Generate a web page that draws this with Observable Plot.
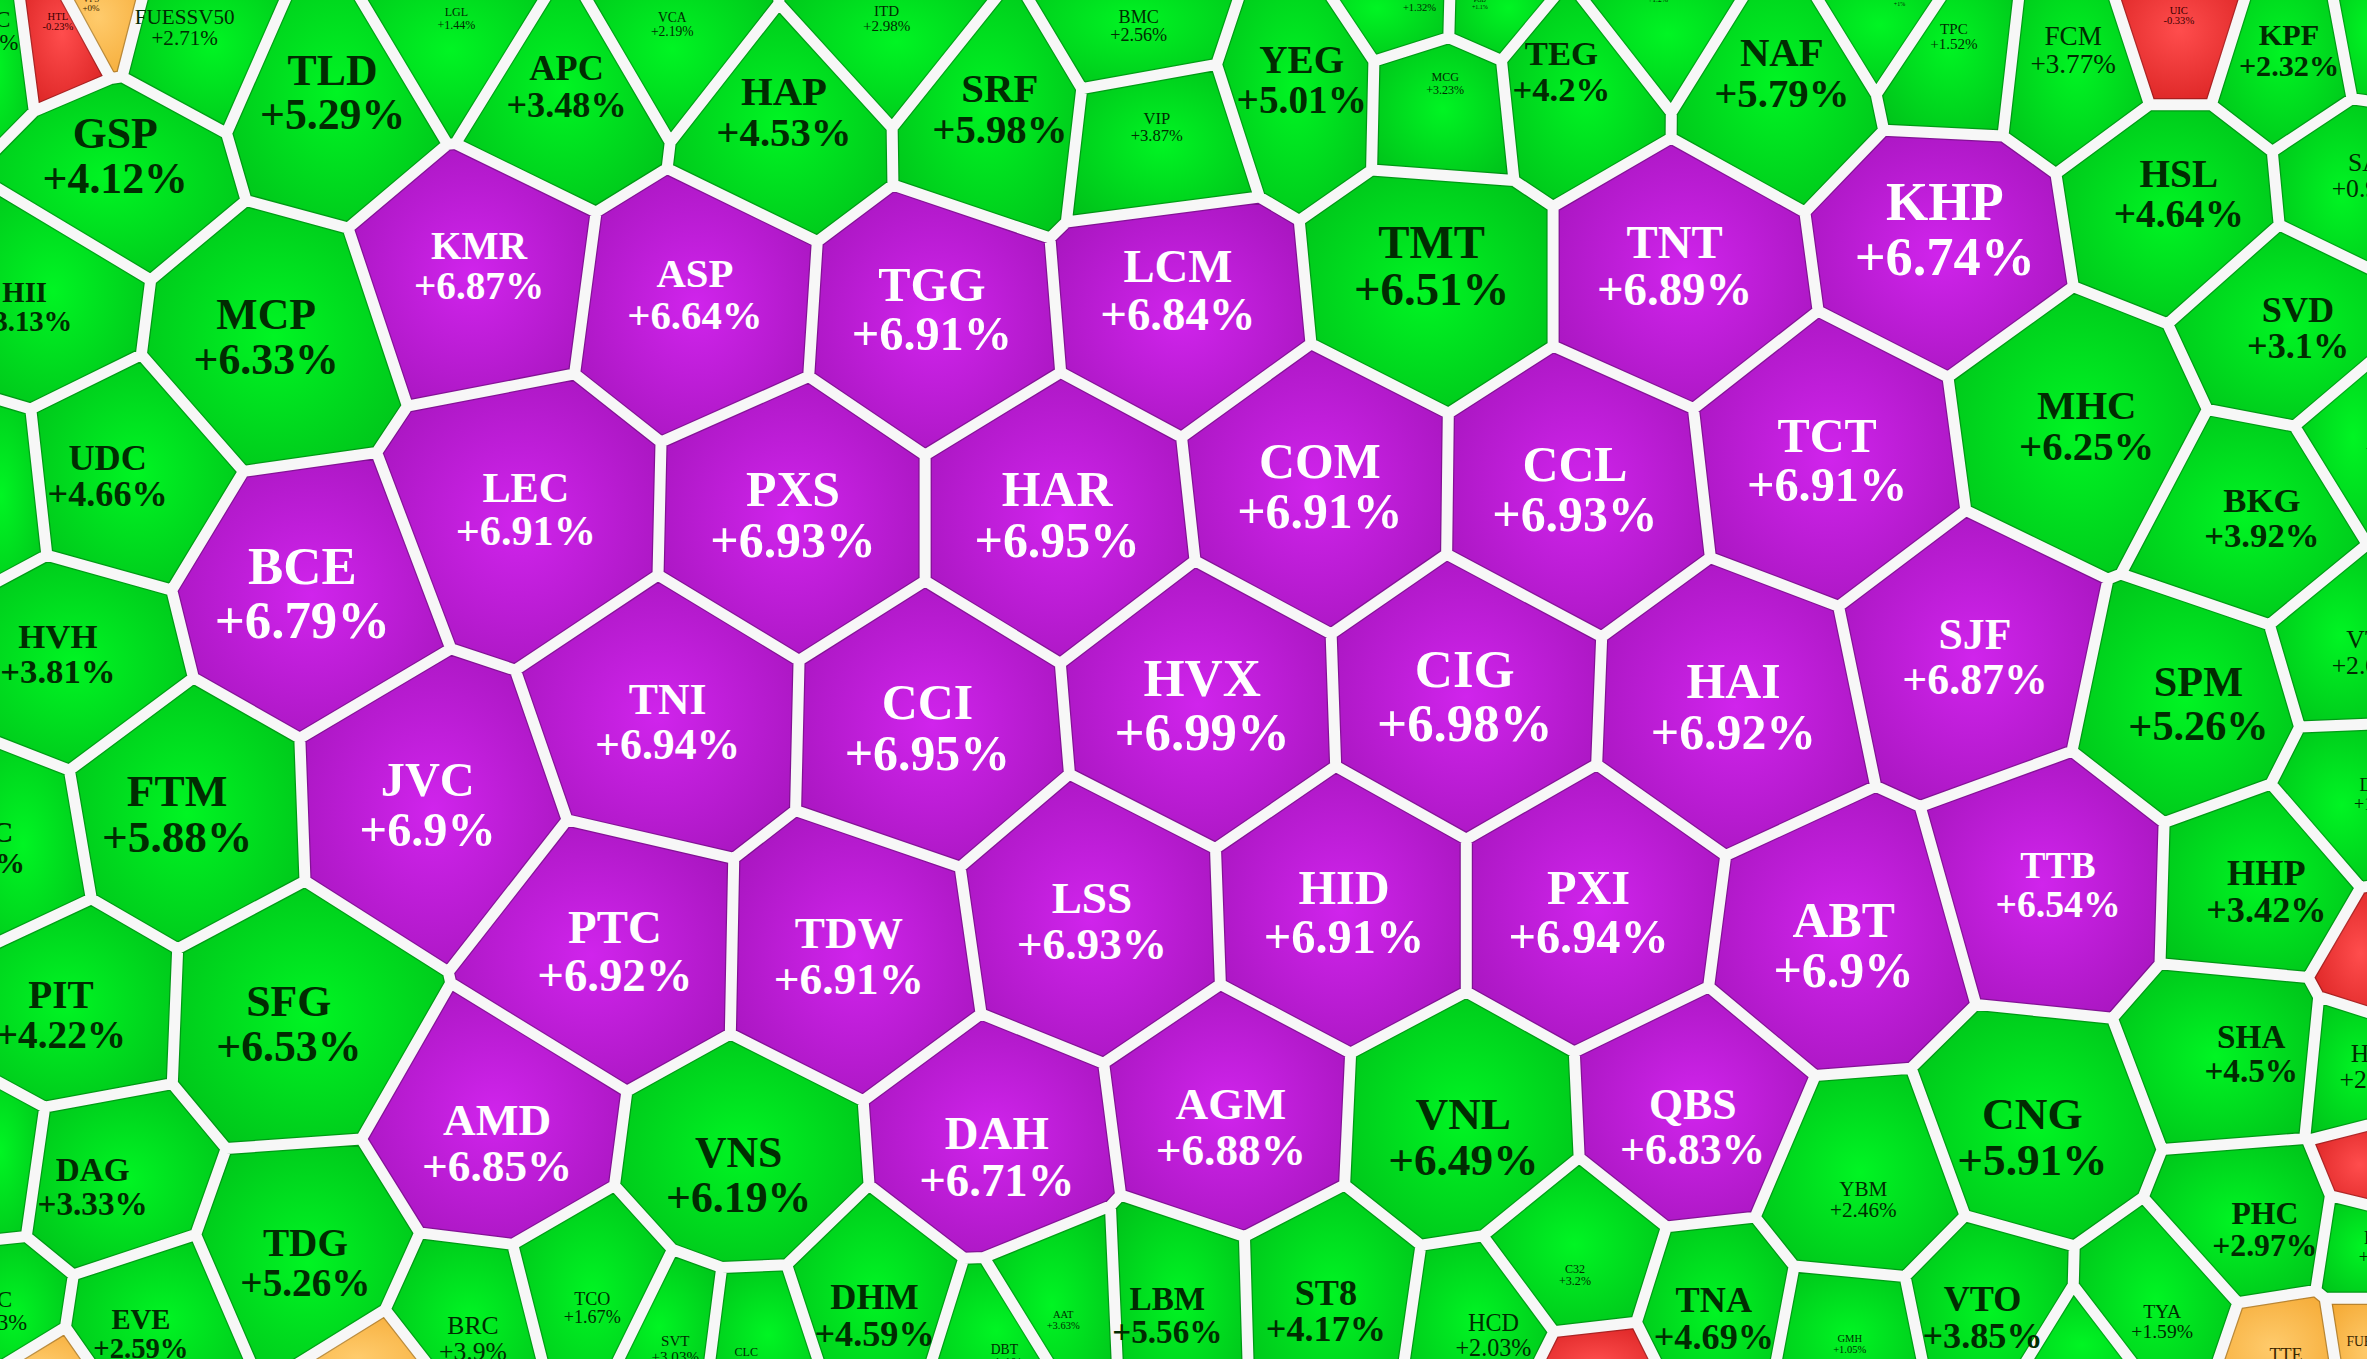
<!DOCTYPE html>
<html><head><meta charset="utf-8">
<script src="https://cdn.jsdelivr.net/npm/d3@7"></script>
<script src="https://cdn.jsdelivr.net/npm/@observablehq/plot@0.6"></script>
<style>
html,body{margin:0;padding:0;background:#f7f7f7;overflow:hidden}
#chart svg{display:block;overflow:hidden;background:#f7f7f7;max-width:none}
</style></head><body><div id="chart"></div>
<script>
// Stock tickers, daily change (%), Voronoi site coordinates (layout units 0–1568 × 0–900),
// and relative cell weight (drives label size)
const tickers = ["SGC","HTL","VPS","FUESSV50","TLD","LGL","APC","VCA","HAP","ITD","SRF","BMC","VIP","YEG","VTP","PGD","MCG","TEG","SBV","NAF","HMC","TPC","FCM","UIC","KPF","VSI",
"GSP","HII","MCP","KMR","ASP","TGG","LCM","TMT","TNT","KHP","HSL","SAV","SVD",
"UDC","HAS","LEC","PXS","HAR","COM","CCL","TCT","MHC","BKG","VDP",
"BCE","HVH","TNI","CCI","HVX","CIG","HAI","SJF","SPM","VTB",
"FTM","DPC","JVC","DLG","PTC","TDW","LSS","HID","PXI","ABT","TTB","HHP",
"PIT","SFG","SHA","HIG","VKD","AMD","VNS","DAH","AGM","VNL","QBS","CNG","DTL",
"DAG","TIX","TDG","YBM","PHC","HTN","STC","EVE","BRC","TCO","SVT","CLC","DHM","DBT","AAT","LBM","ST8","C32","HCD","NBB","TNA","GMH","VTO","HTV","TYA","TTE","FUEVFVND","VRE","HQC"];
const changes = [2.4,-0.23,0,2.71,5.29,1.44,3.48,2.19,4.53,2.98,5.98,2.56,3.87,5.01,1.32,1.1,3.23,4.2,1.2,5.79,1.0,1.52,3.77,-0.33,2.32,1.5,
4.12,3.13,6.33,6.87,6.64,6.91,6.84,6.51,6.89,6.74,4.64,0.93,3.1,
4.66,2.8,6.91,6.93,6.95,6.91,6.93,6.91,6.25,3.92,2.3,
6.79,3.81,6.94,6.95,6.99,6.98,6.92,6.87,5.26,2.06,
5.88,3.7,6.9,1.4,6.92,6.91,6.93,6.91,6.94,6.9,6.54,3.42,
4.22,6.53,4.5,2.5,-1.2,6.85,6.19,6.71,6.88,6.49,6.83,5.91,-1.5,
3.33,2.1,5.26,2.46,2.97,2.2,2.13,2.59,3.9,1.67,3.03,2.1,4.59,1.1,3.63,5.56,4.17,3.2,2.03,-0.8,4.69,1.05,3.85,1.0,1.59,0,0,0,0];
const siteX = [-8,38,60,122,220,302,375,445,519,587,662,754,766,862,940,980,957,1034,1098,1180,1258,1294,1373,1443,1516,1585,
76,16,176,317,460,617,780,948,1109,1288,1443,1571,1522,
71,-20,348,525,700,874,1043,1210,1382,1498,1584,
200,38,442,614,796,970,1148,1308,1456,1571,
117,-12,283,1575,407,562,723,890,1052,1221,1363,1501,
40,191,1491,1572,1592,329,489,660,815,969,1121,1346,1590,
61,-16,202,1234,1500,1578,-6,93,313,392,447,494,579,665,704,773,878,1043,989,1051,1135,1225,1313,1381,1432,1514,1578,30,259];
const siteY = [20,14,2,18,61,12,57,16,74,12,72,17,84,53,1,2,55,47,-3,48,0,24,33,10,33,20,
103,203,223,176,195,205,192,176,176,152,128,116,217,
315,325,337,341,341,322,324,305,282,343,290,
393,433,478,482,467,461,468,435,466,432,
539,561,533,526,630,633,610,604,604,626,586,590,
672,678,698,706,643,757,778,766,746,753,746,753,777,
786,775,836,794,814,826,868,883,886,866,893,899,871,898,874,871,868,844,884,915,873,890,872,914,875,903,893,927,928];
const weights = [15,7,6,14,29,8,24,9,27,10,27,12,11,26,7,4,8,23,5,27,4,10,18,7,20,10,
29,19,29,26,27,32,31,31,31,36,26,17,24,
24,12,28,33,33,33,33,32,27,23,13,
35,23,29,33,35,35,33,29,28,17,
30,20,32,12,31,30,30,32,32,33,25,24,
26,29,22,17,5,30,29,31,30,30,29,30,8,
22,12,26,14,21,12,15,19,17,12,10,8,24,9,7,22,24,8,16,5,24,7,24,5,13,12,9,5,4];
const ceilingTickers = ["KMR","ASP","TGG","LCM","TNT","KHP","LEC","PXS","HAR","COM","CCL","TCT","BCE","TNI","CCI","HVX","CIG","HAI","SJF","JVC","PTC","TDW","LSS","HID","PXI","ABT","TTB","AMD","DAH","AGM","QBS"];

const W = 2367, H = 1359, PADPX = 45;
const kx = W / 1568, ky = H / 900;
const data = tickers.map((t, i) => ({
  ticker: t, change: changes[i], x: siteX[i], y: siteY[i], w: weights[i],
  status: ceilingTickers.includes(t) ? "ceil" : changes[i] < 0 ? "down" : changes[i] === 0 ? "ref" : "up"
}));
const fmt = v => (v >= 0 ? "+" : "") + v + "%";
const textColor = {ceil: "#ffffff", up: "#012c01", down: "#3a0000", ref: "#3a2600"};
const label = d => d.ticker + "\n" + fmt(d.change);
const textOpts = {
  x: "x", y: "y", text: label,
  fontSize: d => d.w * kx,
  fill: d => textColor[d.status],
  fontFamily: "'Liberation Serif', 'Times New Roman', serif",
  lineHeight: 1.02
};

const plot = Plot.plot({
  width: W + 2 * PADPX, height: H + 2 * PADPX, margin: 0,
  x: {domain: [-PADPX / kx, 1568 + PADPX / kx], range: [0, W + 2 * PADPX], axis: null},
  y: {domain: [-PADPX / ky, 900 + PADPX / ky], range: [0, H + 2 * PADPX], axis: null},
  color: {type: "identity"},
  style: {background: "#f7f7f7"},
  marks: [
    Plot.voronoi(data, {x: "x", y: "y", z: null, fill: d => `url(#grad-${d.status})`, stroke: "none"}),
    Plot.voronoiMesh(data, {x: "x", y: "y", stroke: "#000", strokeOpacity: 0.25, strokeWidth: 13.5, strokeLinejoin: "round", strokeLinecap: "round"}),
    Plot.voronoiMesh(data, {x: "x", y: "y", stroke: "#f7f7f7", strokeOpacity: 1, strokeWidth: 11, strokeLinejoin: "round", strokeLinecap: "round"}),
    Plot.text(data.filter(d => d.w >= 19), {...textOpts, fontWeight: "bold"}),
    Plot.text(data.filter(d => d.w < 19), {...textOpts, fontWeight: "normal"})
  ]
});

const defs = d3.select(plot).append("defs");
const grads = {up: ["#00f523", "#00c21a"], ceil: ["#d024ec", "#a615bd"], down: ["#ff4d4d", "#d61e1e"], ref: ["#ffcb6c", "#f4a832"]};
for (const [k, [c0, c1]] of Object.entries(grads)) {
  const g = defs.append("radialGradient").attr("id", "grad-" + k).attr("cx", "50%").attr("cy", "50%").attr("r", "62%");
  g.append("stop").attr("offset", "0%").attr("stop-color", c0);
  g.append("stop").attr("offset", "100%").attr("stop-color", c1);
}
plot.setAttribute("viewBox", `${PADPX} ${PADPX} ${W} ${H}`);
plot.setAttribute("width", W);
plot.setAttribute("height", H);
document.getElementById("chart").appendChild(plot);
</script></body></html>
